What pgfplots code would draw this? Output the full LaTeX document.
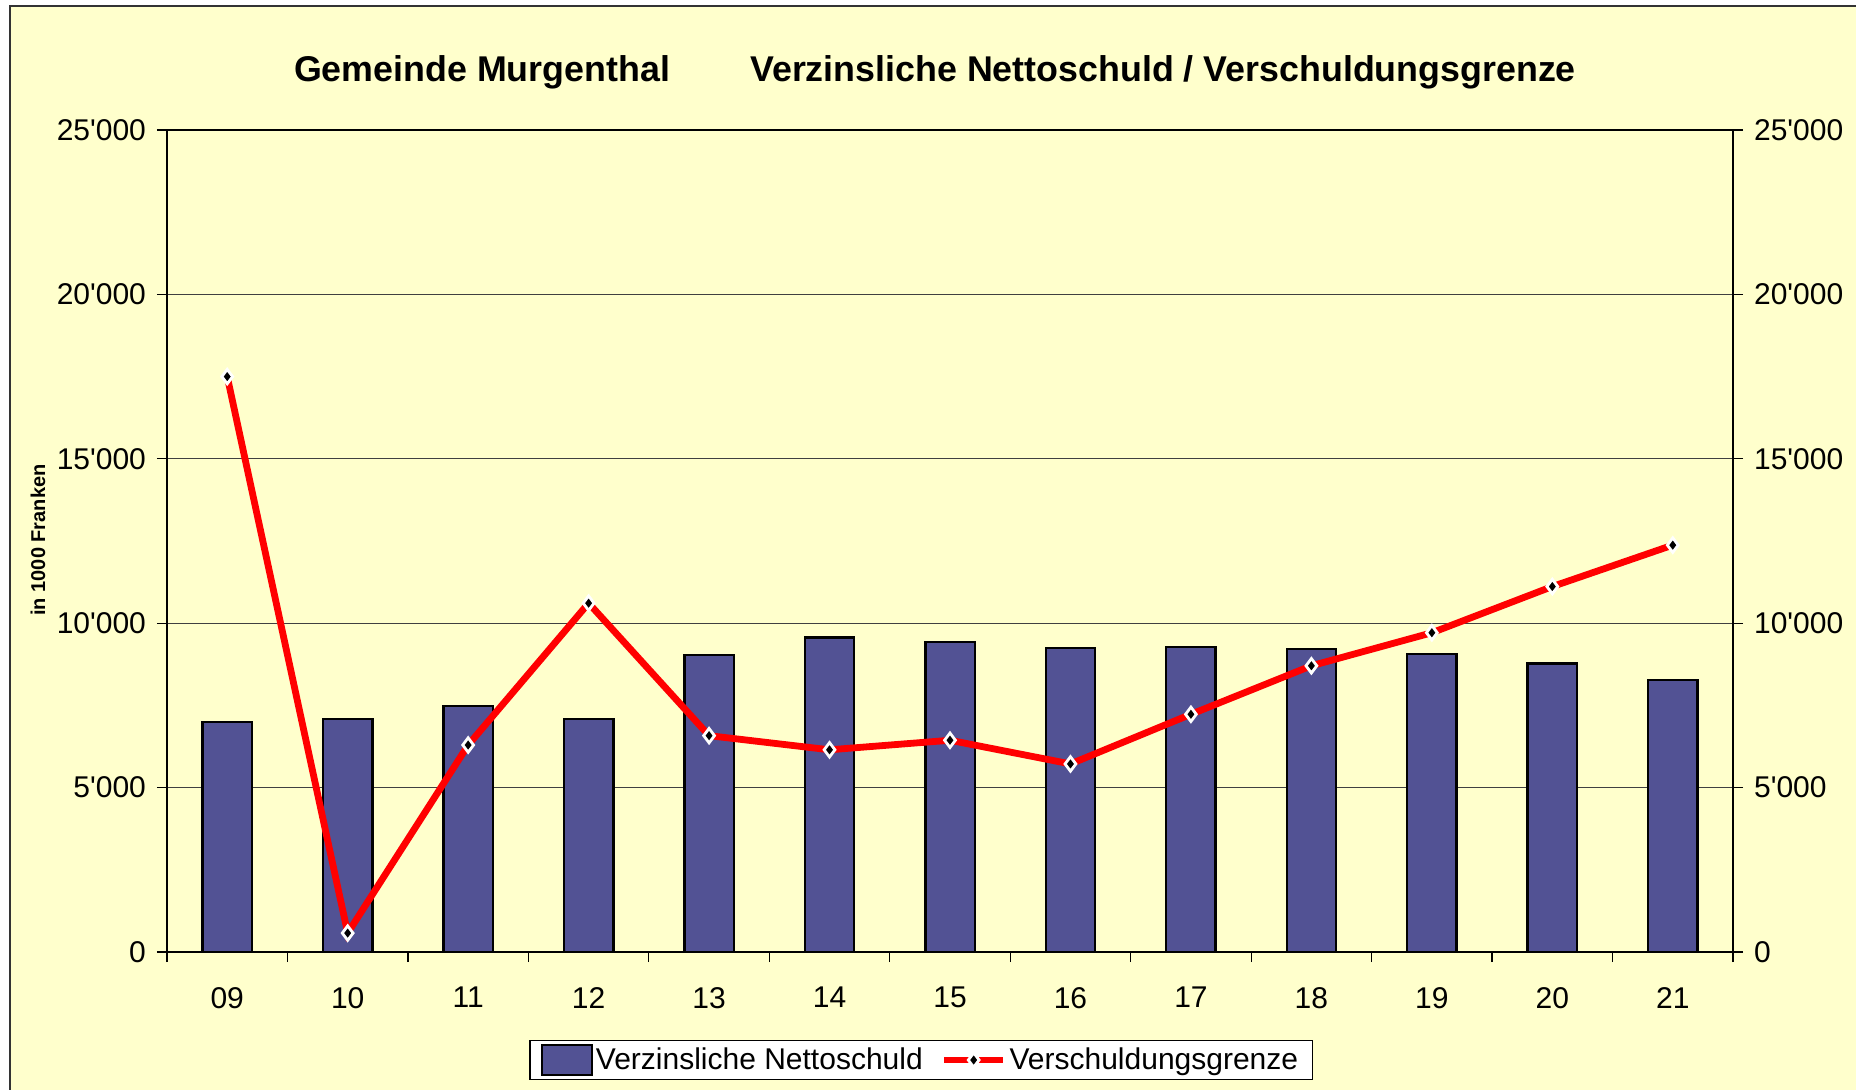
\documentclass[border=0pt]{standalone}
\usepackage{pgfplots}
\pgfplotsset{compat=1.18}
\usepackage{fontspec}
\setmainfont{Liberation Sans}
\newfontfamily\arial{Liberation Sans}
\definecolor{bg}{RGB}{255,255,204}
\definecolor{barfill}{RGB}{82,82,148}
\definecolor{linered}{RGB}{255,0,0}
\pgfplotsset{
  mybarlegend/.style={legend image code/.code={\draw[#1, line width=1pt] (0pt,-7.5pt) rectangle (25pt,7.5pt);}},
  mylinelegend/.style={legend image code/.code={\draw[#1, mark repeat=2, mark phase=2] plot coordinates {(0pt,0pt) (14.75pt,0pt) (29.5pt,0pt)};}},
}

\begin{document}
\begin{tikzpicture}
\useasboundingbox (-83.5pt,-68.5pt) rectangle (844.5pt,476pt);
\fill[white] (-83.5pt,-68.5pt) rectangle (844.5pt,476pt);
\begin{scope}
\clip (-83.5pt,-68.5pt) rectangle (844.5pt,476pt);
\filldraw[fill=bg, draw=black!80, line width=1pt] (-78.5pt,-90pt) rectangle (870pt,473pt);
\end{scope}

\begin{axis}[
  at={(0pt,0pt)}, anchor=south west, scale only axis,
  width=783pt, height=411pt,
  xmin=-0.5, xmax=12.5, ymin=0, ymax=25000,
  scaled y ticks=false,
  axis line style={line width=0.9pt, black},
  tick align=outside, major tick length=5pt,
  tick style={black, line width=0.6pt},
  xtick={-0.5,0.5,...,12.5}, xticklabels={},
  xtick pos=bottom, ytick pos=left,
  extra x ticks={0,1,...,12},
  extra x tick labels={09,10,11,12,13,14,15,16,17,18,19,20,21},
  extra x tick style={major tick length=0pt, xticklabel style={yshift=-14pt}},
  ytick={0,5000,10000,15000,20000,25000},
  yticklabels={0,5'000,10'000,15'000,20'000,25'000},
  ymajorgrids, major grid style={black!75, line width=0.5pt},
  tick label style={font=\arial\fontsize{15}{18}\selectfont},
  yticklabel style={xshift=-2pt},
  legend columns=2,
  legend style={at={(0.4815,-0.1314)}, anchor=center, draw=black, fill=white,
    line width=0.6pt, font=\arial\fontsize{15}{18}\selectfont,
    inner xsep=5.5pt, inner ysep=1.5pt,
    /tikz/every even column/.append style={column sep=7.5pt},
    nodes={inner xsep=1.5pt}},
  legend cell align=left,
]
\addplot[ybar, bar width=0.41, fill=barfill, draw=black, line width=1.2pt,
  area legend, mybarlegend]
  coordinates {(0,7000) (1,7090) (2,7480) (3,7090) (4,9030) (5,9570) (6,9420)
               (7,9245) (8,9280) (9,9210) (10,9065) (11,8780) (12,8275)};
\addlegendentry{Verzinsliche Nettoschuld}
\addplot[linered, line width=3.4pt, mark=diamond*, mark size=3.6pt, mylinelegend,
  mark options={fill=black, draw=white, line width=1.4pt, solid}]
  coordinates {(0,17500) (1,575) (2,6295) (3,10610) (4,6580) (5,6150) (6,6440)
               (7,5720) (8,7230) (9,8705) (10,9710) (11,11115) (12,12375)};
\addlegendentry{Verschuldungsgrenze}
\end{axis}

\begin{axis}[
  at={(0pt,0pt)}, anchor=south west, scale only axis,
  width=783pt, height=411pt,
  xmin=-0.5, xmax=12.5, ymin=0, ymax=25000,
  scaled y ticks=false,
  axis x line=none, axis y line*=right,
  axis line style={line width=0.9pt, black},
  tick align=outside, major tick length=5pt,
  tick style={black, line width=0.6pt},
  ytick={0,5000,10000,15000,20000,25000},
  yticklabels={0,5'000,10'000,15'000,20'000,25'000},
  tick label style={font=\arial\fontsize{15}{18}\selectfont},
  yticklabel style={xshift=2pt},
]
\end{axis}

\node[font=\arial\bfseries\fontsize{17.9}{21}\selectfont] at (157.5pt,439.7pt) {Gemeinde Murgenthal};
\node[font=\arial\bfseries\fontsize{17.9}{21}\selectfont] at (498pt,439.7pt) {Verzinsliche Nettoschuld / Verschuldungsgrenze};
\node[font=\arial\bfseries\fontsize{10}{12}\selectfont, rotate=90] at (-64.5pt,206pt) {in 1000 Franken};
\end{tikzpicture}
\end{document}
